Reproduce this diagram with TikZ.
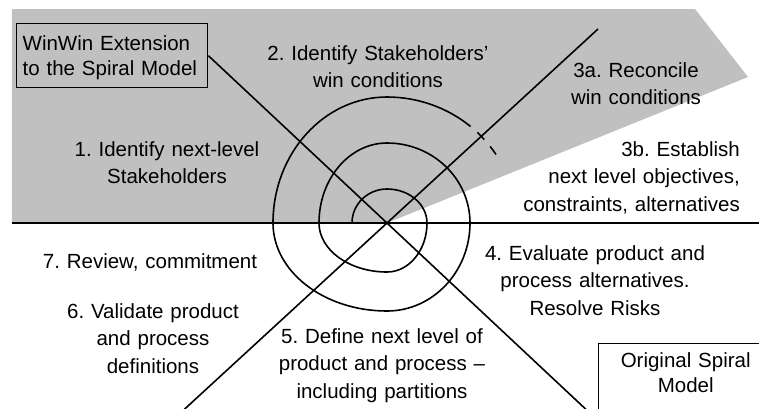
\documentclass[tikz,border=0pt]{standalone}
\usepackage{fontspec}
\setmainfont{Liberation Sans}
\definecolor{winwingray}{RGB}{192,192,192}
\usetikzlibrary{calc}

\begin{document}
\frenchspacing
\begin{tikzpicture}[x=1pt, y=1pt,
    steptext/.style={font=\fontsize{20.5}{27.5}\selectfont, text width=240pt,
      align=center, inner sep=0pt, anchor=base},
    framebox/.style={draw, line width=1.4pt, font=\fontsize{20.5}{25}\selectfont,
      inner xsep=6pt, inner ysep=10pt, text height=17pt, anchor=north west},
    spiral/.style={line width=1.6pt}]
  \clip (-387,-185) rectangle (372,223);
  \fill[white] (-387,-185) rectangle (372,223);
  \fill[winwingray] (-375,0) -- (-375,214) -- (308,214) -- (361,146) -- (0,0) -- cycle;

  \coordinate (hub) at (0,0);
  \coordinate (axis west) at (-375,0);
  \coordinate (axis east) at (372,0);
  \coordinate (reconcile end) at (211,194);

  \node[framebox, align=left, text width=179pt, text depth=27pt] (winwin) at (-371,200)
    {WinWin Extension\\to the Spiral Model};
  \node[framebox, align=center, text width=150pt, inner xsep=12pt, inner ysep=7pt,
    text depth=60pt] (original) at (211,-120) {Original Spiral\\Model};

  \draw[line width=2.2pt] (axis west) -- (axis east);
  \draw[spiral] (winwin.east) -- ($(winwin.east)!2.2!(hub)$);
  \draw[spiral] (reconcile end) -- ($(reconcile end)!2.1!(hub)$);

  % spiral, one quarter turn at a time
  \draw[spiral] (-35,0)
    \foreach \a/\rx/\ry in {180/35pt/34pt, 90/40pt/34pt, 0/40pt/49pt, -90/68pt/49pt,
      -180/68pt/80pt, -270/83pt/80pt, -360/83pt/88pt, -450/114pt/88pt, -540/114pt/126pt}
      { arc[start angle=\a, delta angle=-90, x radius=\rx, y radius=\ry] }
    arc[start angle=90, end angle=50, x radius=130pt, y radius=126pt] coordinate (spiral end);
  \draw[spiral, dash pattern=on 10pt off 9pt, dash phase=10pt] (spiral end)
    arc[start angle=50, end angle=32, x radius=131pt, y radius=128pt];

  \node[steptext] (step1) at (-220,67) {1. Identify next-level\\Stakeholders};
  \node[steptext] (step2) at (-9,163) {2. Identify Stakeholders'\\win conditions};
  \node[steptext] (step3a) at (249,146) {3a. Reconcile\\win conditions};
  \node[steptext, align=right, anchor=base east] (step3b) at (353,67)
    {3b. Establish\\next level objectives,\\constraints, alternatives};
  \node[steptext] (step4) at (208,-37) {4. Evaluate product and\\process alternatives.\\Resolve Risks};
  \node[steptext] (step5) at (-5,-120) {5. Define next level of\\product and process --\\including partitions};
  \node[steptext] (step6) at (-234,-95) {6. Validate product\\and process\\definitions};
  \node[steptext] (step7) at (-237,-45) {7. Review, commitment};
\end{tikzpicture}
\end{document}
